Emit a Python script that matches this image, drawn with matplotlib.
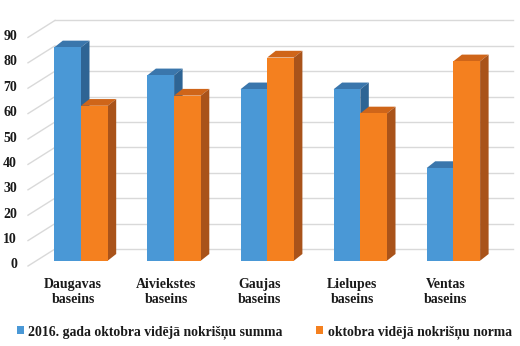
import matplotlib
matplotlib.use("Agg")
import matplotlib.pyplot as plt
from matplotlib.patches import Polygon, Patch

categories = ["Daugavas\nbaseins", "Aiviekstes\nbaseins", "Gaujas\nbaseins",
              "Lielupes\nbaseins", "Ventas\nbaseins"]
series_names = ["2016. gada oktobra vidējā nokrišņu summa",
                "oktobra vidējā nokrišņu norma"]
summa_2016 = [84, 73, 67.5, 67.5, 36.5]
norma = [61, 65, 80, 58, 78.5]
y_ticks = [0, 10, 20, 30, 40, 50, 60, 70, 80, 90]

front_cols = ["#4A98D6", "#F4801F"]
top_cols = ["#3A76AC", "#CF6519"]
side_cols = ["#2E6494", "#A9531A"]
grid_col = "#D9D9D9"

W, H = 520, 346
fig = plt.figure(figsize=(W / 100, H / 100), dpi=100)
ax = fig.add_axes([0, 0, 1, 1])
ax.axis("off")

# pixel geometry -> data coords
x0_px, step_px = 81.0, 93.1          # first group centre, group spacing
y0_px, unit_px = 260.7, 2.54         # front zero line (from top), px per unit
ax.set_xlim(-x0_px / step_px, (W - x0_px) / step_px)
ax.set_ylim(-(H - y0_px) / unit_px, y0_px / unit_px)

def dx(px):
    return px / step_px

def dy(px):
    return px / unit_px

font = "Liberation Serif"
bar_w = dx(26.7)
side_dx, side_dy = dx(8.5), dy(6.7)

# back wall + left wall
back_off = dy(y0_px - 249.0)
wall_left = dx(55 - x0_px)
wall_right = dx(513 - x0_px)
diag_dx, diag_dy = dx(27), dy(17)
for v in y_ticks:
    yb = v + back_off
    ax.plot([wall_left, wall_right], [yb, yb], color=grid_col, lw=1.0, zorder=1)
    ax.plot([wall_left - diag_dx, wall_left], [yb - diag_dy, yb],
            color=grid_col, lw=1.0, zorder=1)
    ax.text(dx(17 - x0_px), yb - diag_dy + dy(1), str(v),
            ha="right", va="center", fontsize=10, fontweight="bold",
            family=font, color="#1a1a1a")

# bars with pseudo-3D faces
for i in range(len(categories)):
    for s, vals in enumerate([summa_2016, norma]):
        v = vals[i]
        xl = i - bar_w + s * bar_w
        xr = xl + bar_w
        ax.bar(xl, v, width=bar_w, align="edge", color=front_cols[s],
               lw=0, zorder=3 + s * 2)
        top = Polygon([(xl, v), (xr, v), (xr + side_dx, v + side_dy),
                       (xl + side_dx, v + side_dy)], closed=True,
                      facecolor=top_cols[s], lw=0, zorder=2 + s * 2)
        side = Polygon([(xr, 0), (xr + side_dx, side_dy),
                        (xr + side_dx, v + side_dy), (xr, v)], closed=True,
                       facecolor=side_cols[s], lw=0, zorder=2 + s * 2)
        ax.add_patch(top)
        ax.add_patch(side)
    ax.text(i - dx(8), dy(-31), categories[i], ha="center", va="center",
            fontsize=10, fontweight="bold", family=font, color="#1a1a1a",
            linespacing=1.2)

handles = [Patch(facecolor=front_cols[0]), Patch(facecolor=front_cols[1])]
leg = fig.legend(handles, series_names, loc="center",
                 bbox_to_anchor=(0.508, 1 - 332 / H), ncol=2, frameon=False,
                 handlelength=0.55, handleheight=0.55, handletextpad=0.3,
                 columnspacing=2.4,
                 prop={"family": font, "weight": "bold", "size": 9.9})
for t in leg.get_texts():
    t.set_color("#1a1a1a")

fig.savefig("out.png", dpi=100)
